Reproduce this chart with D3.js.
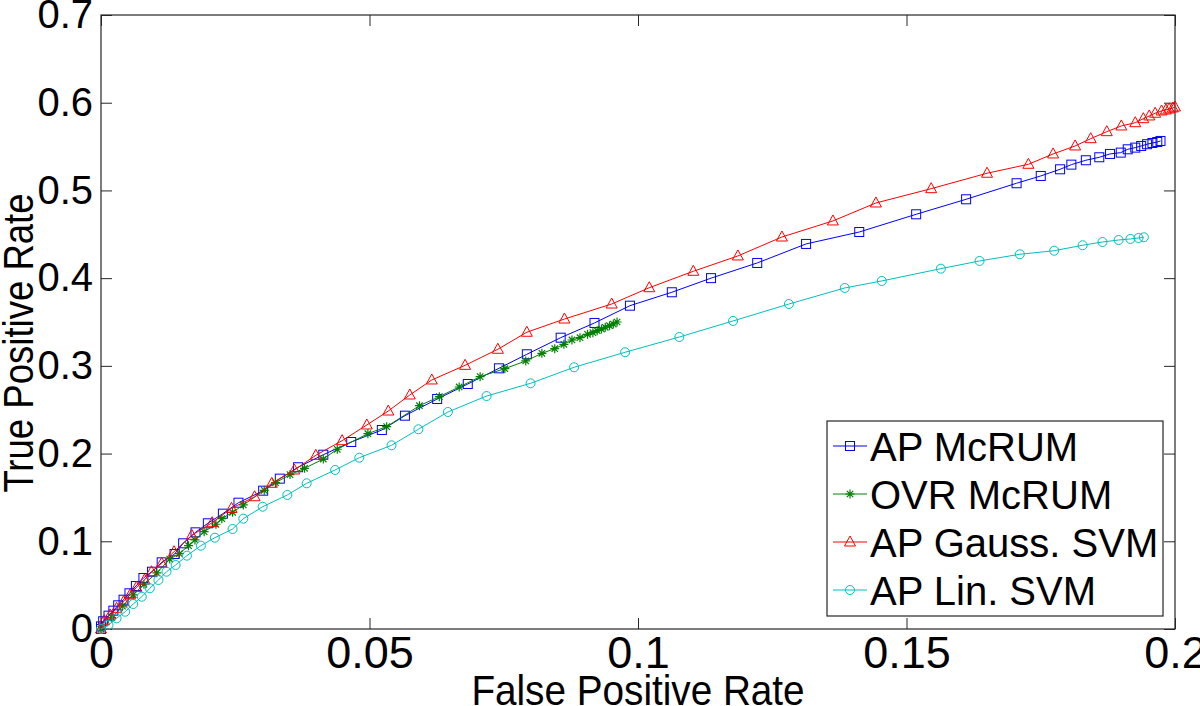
<!DOCTYPE html>
<html><head><meta charset="utf-8">
<script src="https://cdn.jsdelivr.net/npm/d3@7"></script>
<style>
html,body{margin:0;padding:0;background:#fff;}
svg{display:block;}
text{font-family:"Liberation Sans",Arial,sans-serif;fill:#000;}
</style></head>
<body><svg id="chart" width="1200" height="706"></svg>
<script>
// ---- data ----
const xTicks = [0, 0.05, 0.1, 0.15, 0.2];
const xTickLabels = ["0", "0.05", "0.1", "0.15", "0.2"];
const yTicks = [0, 0.1, 0.2, 0.3, 0.4, 0.5, 0.6, 0.7];
const yTickLabels = ["0", "0.1", "0.2", "0.3", "0.4", "0.5", "0.6", "0.7"];
const seriesNames = ["AP McRUM", "OVR McRUM", "AP Gauss. SVM", "AP Lin. SVM"];

const apMcrumFpr = [0, 0, 0.0004, 0.0014, 0.0023, 0.0032, 0.0042, 0.0053, 0.0065, 0.0079, 0.0095, 0.0113, 0.0137, 0.0153, 0.0176, 0.0199, 0.0227, 0.0256, 0.0302, 0.0333, 0.0367, 0.0414, 0.0466, 0.0523, 0.0566, 0.0626, 0.0683, 0.0741, 0.0793, 0.0856, 0.0919, 0.0985, 0.1063, 0.1136, 0.1222, 0.1313, 0.1412, 0.1518, 0.1611, 0.1705, 0.1750, 0.1786, 0.1807, 0.1834, 0.1859, 0.1879, 0.1899, 0.1912, 0.1926, 0.1937, 0.1948, 0.1958, 0.1967, 0.1973];
const apMcrumTpr = [0, 0.003, 0.0088, 0.0152, 0.0209, 0.0270, 0.0334, 0.0407, 0.0490, 0.0581, 0.0653, 0.0760, 0.0855, 0.0977, 0.1102, 0.1205, 0.1315, 0.1440, 0.1577, 0.1714, 0.1844, 0.1987, 0.2132, 0.2269, 0.2432, 0.2622, 0.2793, 0.2972, 0.3132, 0.3321, 0.3489, 0.3686, 0.3839, 0.4000, 0.4173, 0.4390, 0.4526, 0.4728, 0.4899, 0.5082, 0.5165, 0.5241, 0.5294, 0.5344, 0.5378, 0.5416, 0.5431, 0.5469, 0.5488, 0.5507, 0.5527, 0.5541, 0.5552, 0.5564];

const ovrMcrumFpr = [0, 0.002, 0.004, 0.006, 0.008, 0.0104, 0.0128, 0.0146, 0.0163, 0.0175, 0.0192, 0.0214, 0.0225, 0.0245, 0.0265, 0.0304, 0.0325, 0.0352, 0.0379, 0.0414, 0.0440, 0.0497, 0.0532, 0.0593, 0.0630, 0.0667, 0.0706, 0.0752, 0.0791, 0.0821, 0.0845, 0.0862, 0.0877, 0.0892, 0.0906, 0.0916, 0.0924, 0.0932, 0.0939, 0.0947, 0.0954, 0.0961];
const ovrMcrumTpr = [0, 0.013, 0.026, 0.039, 0.051, 0.064, 0.0798, 0.0859, 0.0950, 0.1015, 0.1109, 0.1194, 0.1258, 0.1330, 0.1414, 0.1581, 0.1668, 0.1760, 0.1832, 0.1938, 0.2049, 0.2227, 0.2307, 0.2546, 0.2649, 0.2759, 0.2877, 0.2968, 0.3056, 0.3143, 0.3196, 0.3246, 0.3295, 0.3321, 0.3360, 0.3378, 0.3401, 0.3420, 0.3440, 0.3458, 0.3477, 0.3500];

const apGaussFpr = [0, 0.0006, 0.0017, 0.0029, 0.0042, 0.0054, 0.0066, 0.0081, 0.0094, 0.0113, 0.0136, 0.0169, 0.0207, 0.0243, 0.0286, 0.0318, 0.0360, 0.0400, 0.0449, 0.0495, 0.0535, 0.0575, 0.0616, 0.0678, 0.0739, 0.0793, 0.0863, 0.0951, 0.1021, 0.1103, 0.1186, 0.1268, 0.1363, 0.1443, 0.1546, 0.1650, 0.1727, 0.1773, 0.1814, 0.1843, 0.1873, 0.1900, 0.1926, 0.1941, 0.1952, 0.1963, 0.1975, 0.1983, 0.1989, 0.1996, 0.2000];
const apGaussTpr = [0, 0.0095, 0.0160, 0.0236, 0.0311, 0.0388, 0.0475, 0.0559, 0.0653, 0.0749, 0.0881, 0.1068, 0.1212, 0.1376, 0.1508, 0.1661, 0.1813, 0.1980, 0.2147, 0.2326, 0.2485, 0.2668, 0.2839, 0.3006, 0.3189, 0.3383, 0.3534, 0.3705, 0.3891, 0.4078, 0.4253, 0.4469, 0.4652, 0.4857, 0.5020, 0.5196, 0.5298, 0.5416, 0.5507, 0.5590, 0.5670, 0.5735, 0.5772, 0.5818, 0.5849, 0.5880, 0.5906, 0.5917, 0.5929, 0.5940, 0.5951];

const apLinFpr = [0, 0.0014, 0.0029, 0.0045, 0.0060, 0.0076, 0.0091, 0.0107, 0.0122, 0.0139, 0.0160, 0.0186, 0.0212, 0.0245, 0.0265, 0.0301, 0.0347, 0.0383, 0.0436, 0.0481, 0.0541, 0.0591, 0.0646, 0.0718, 0.0800, 0.0881, 0.0976, 0.1077, 0.1177, 0.1281, 0.1385, 0.1454, 0.1564, 0.1636, 0.1711, 0.1775, 0.1828, 0.1865, 0.1895, 0.1917, 0.1932, 0.1942];
const apLinTpr = [0, 0.0046, 0.0122, 0.0197, 0.0285, 0.0368, 0.0464, 0.0559, 0.0653, 0.0730, 0.0836, 0.0950, 0.1041, 0.1140, 0.1258, 0.1394, 0.1528, 0.1661, 0.1813, 0.1953, 0.2094, 0.2277, 0.2474, 0.2656, 0.2801, 0.2984, 0.3155, 0.3329, 0.3512, 0.3705, 0.3888, 0.3968, 0.4108, 0.4196, 0.4272, 0.4313, 0.4375, 0.4412, 0.4435, 0.4447, 0.4458, 0.4466];

// ---- layout ----
const svg = d3.select("#chart");
const L = 101, R = 1175, T = 15, B = 629;
const x = d3.scaleLinear().domain([0, 0.2]).range([L, R]);
const y = d3.scaleLinear().domain([0, 0.7]).range([B, T]);

const series = [
  {name: seriesNames[0], fpr: apMcrumFpr, tpr: apMcrumTpr, color: "#0000ff", marker: "square"},
  {name: seriesNames[1], fpr: ovrMcrumFpr, tpr: ovrMcrumTpr, color: "#008000", marker: "star"},
  {name: seriesNames[2], fpr: apGaussFpr, tpr: apGaussTpr, color: "#ff0000", marker: "triangle"},
  {name: seriesNames[3], fpr: apLinFpr, tpr: apLinTpr, color: "#00bfbf", marker: "circle"}
];

const axisColor = "#262626";

// axes
const xAxis = svg.append("g").attr("transform", `translate(0,${B})`)
  .call(d3.axisBottom(x).tickValues(xTicks).tickSize(-11).tickPadding(7)
    .tickFormat((d, i) => xTickLabels[i]));
const xAxisTop = svg.append("g").attr("transform", `translate(0,${T})`)
  .call(d3.axisTop(x).tickValues(xTicks).tickSize(-11).tickFormat(""));
const yAxis = svg.append("g").attr("transform", `translate(${L},0)`)
  .call(d3.axisLeft(y).tickValues(yTicks).tickSize(-11).tickPadding(8)
    .tickFormat((d, i) => yTickLabels[i]));
const yAxisRight = svg.append("g").attr("transform", `translate(${R},0)`)
  .call(d3.axisRight(y).tickValues(yTicks).tickSize(-11).tickFormat(""));

[xAxis, xAxisTop, yAxis, yAxisRight].forEach(g => {
  g.select(".domain").remove();
  g.selectAll(".tick line").attr("stroke", axisColor).attr("stroke-width", 1);
});
xAxis.selectAll(".tick text").attr("font-size", 45).attr("font-family", "Liberation Sans, Arial, sans-serif").attr("fill", "#000");
yAxis.selectAll(".tick text").attr("font-size", 40).attr("font-family", "Liberation Sans, Arial, sans-serif").attr("fill", "#000");

// frame
svg.append("rect").attr("x", L).attr("y", T).attr("width", R - L).attr("height", B - T)
  .attr("fill", "none").attr("stroke", axisColor).attr("stroke-width", 1.2);

// marker drawing
function drawMarker(g, type, color) {
  if (type === "square") {
    g.append("rect").attr("x", -4.5).attr("y", -4.5).attr("width", 9).attr("height", 9)
      .attr("fill", "none").attr("stroke", color).attr("stroke-width", 1);
  } else if (type === "triangle") {
    g.append("path").attr("d", "M0,-6 L5.5,4 L-5.5,4 Z")
      .attr("fill", "none").attr("stroke", color).attr("stroke-width", 1);
  } else if (type === "circle") {
    g.append("circle").attr("r", 4.5)
      .attr("fill", "none").attr("stroke", color).attr("stroke-width", 1);
  } else if (type === "star") {
    g.append("path").attr("d", "M0,-4.5 L0,4.5 M-4.5,0 L4.5,0 M-3.2,-3.2 L3.2,3.2 M-3.2,3.2 L3.2,-3.2")
      .attr("fill", "none").attr("stroke", color).attr("stroke-width", 1.2);
  }
}

const line = d3.line().x(d => x(d[0])).y(d => y(d[1]));

series.forEach(s => {
  const pts = s.fpr.map((f, i) => [f, s.tpr[i]]);
  const g = svg.append("g");
  g.append("path").datum(pts).attr("d", line)
    .attr("fill", "none").attr("stroke", s.color).attr("stroke-width", 1);
  g.selectAll("g.m").data(pts).enter().append("g").attr("class", "m")
    .attr("transform", d => `translate(${x(d[0])},${y(d[1])})`)
    .each(function () { drawMarker(d3.select(this), s.marker, s.color); });
});

// axis labels
svg.append("text").attr("transform", `translate(${(L + R) / 2},705) scale(0.9,1)`)
  .attr("text-anchor", "middle").attr("font-size", 43).text("False Positive Rate");
svg.append("text").attr("transform", `translate(33,343) rotate(-90) scale(0.85,1)`)
  .attr("text-anchor", "middle").attr("font-size", 43).text("True Positive Rate");

// legend
const lg = svg.append("g");
lg.append("rect").attr("x", 827).attr("y", 421).attr("width", 336).attr("height", 195)
  .attr("fill", "#fff").attr("stroke", axisColor).attr("stroke-width", 1.2);
series.forEach((s, i) => {
  const cy = 446 + i * 48;
  lg.append("line").attr("x1", 833).attr("x2", 867).attr("y1", cy).attr("y2", cy)
    .attr("stroke", s.color).attr("stroke-width", 1);
  const mg = lg.append("g").attr("transform", `translate(850,${cy})`);
  drawMarker(mg, s.marker, s.color);
  lg.append("text").attr("x", 870).attr("y", cy + 15).attr("font-size", 40).text(s.name);
});
</script></body></html>
